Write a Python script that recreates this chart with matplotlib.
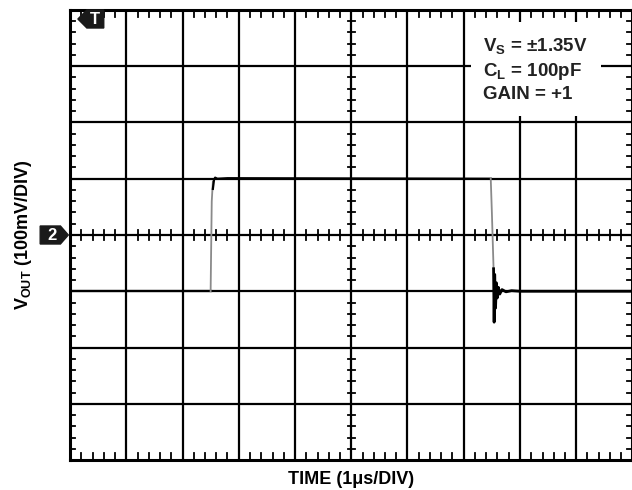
import matplotlib.pyplot as plt
from matplotlib.patches import Polygon

plt.rcParams['font.family'] = ['Liberation Sans', 'DejaVu Sans']

# waveform, time in us, output in mV (100mV/div, 1us/div)
t_low = [0.0, 2.50]
v_low = [-100, -100]
t_rise = [2.50, 2.52, 2.54]
v_rise = [-100, 60, 95]
t_high = [2.54, 2.56, 2.58, 2.62, 2.8, 7.48]
v_high = [82, 98, 102, 100, 101, 100]
t_fall = [7.48, 7.50, 7.53]
v_fall = [100, 40, -60]
t_ring = [7.53, 7.54, 7.55, 7.565, 7.58, 7.595, 7.615, 7.64, 7.68, 7.75, 7.85, 8.0, 10.0]
v_ring = [-60, -155, -70, -130, -85, -112, -93, -105, -97, -101, -99, -100, -100]

note_lines = ['V$_\\mathregular{S}$ = \u00b11.35V', 'C$_\\mathregular{L}$ = 100pF', 'GAIN = +1']

fig = plt.figure(figsize=(6.32, 4.9), dpi=100)
ax = fig.add_axes([70 / 632, 30 / 490, 562.5 / 632, 450 / 490])
ax.set_xlim(0, 10)
ax.set_ylim(-400, 400)

# grid
for x in range(1, 10):
    ax.axvline(x, color='black', lw=1.6, zorder=1)
for y in range(-300, 400, 100):
    ax.axhline(y, color='black', lw=1.6, zorder=1)

for s in ax.spines.values():
    s.set_linewidth(2.2)
ax.set_xticks([])
ax.set_yticks([])

# minor ticks on the borders and centre axes
minor_x = [x / 5 for x in range(1, 50) if x % 5 != 0]
minor_y = [y * 20 for y in range(-19, 20) if y % 5 != 0]
tx = 0.09
ty = 13
for x in minor_x:
    ax.plot([x, x], [-400, -400 + ty], color='black', lw=1.3, clip_on=False, zorder=2)
    ax.plot([x, x], [400, 400 - ty], color='black', lw=1.3, clip_on=False, zorder=2)
    ax.plot([x, x], [-ty / 2 - 2, ty / 2 + 2], color='black', lw=1.3, zorder=2)
for y in minor_y:
    ax.plot([0, tx], [y, y], color='black', lw=1.3, clip_on=False, zorder=2)
    ax.plot([10, 10 - tx], [y, y], color='black', lw=1.3, clip_on=False, zorder=2)
    ax.plot([5 - tx / 2 - 0.02, 5 + tx / 2 + 0.02], [y, y], color='black', lw=1.3, zorder=2)

# trace
ax.plot(t_low, v_low, color='black', lw=1.6, zorder=4)
ax.plot(t_rise, v_rise, color='#8a8a8a', lw=1.3, zorder=4)
ax.plot(t_high, v_high, color='black', lw=1.6, zorder=4)
ax.plot(t_fall, v_fall, color='#8a8a8a', lw=1.3, zorder=4)
ax.plot(t_ring, v_ring, color='black', lw=2.0, zorder=4)

# trigger marker
ax.add_patch(Polygon([[0.14, 384], [0.3, 400], [0.6, 400], [0.6, 368], [0.3, 368]],
                     closed=True, color='#1a1a1a', zorder=6, clip_on=False))
ax.text(0.44, 383, 'T', color='white', fontsize=12, fontweight='bold',
        ha='center', va='center', zorder=7)

# channel 2 reference marker
ax.add_patch(Polygon([[-0.53, 16], [-0.17, 16], [-0.03, 0], [-0.17, -16], [-0.53, -16]],
                     closed=True, color='#1a1a1a', zorder=6, clip_on=False))
ax.text(-0.32, -1, '2', color='white', fontsize=12, fontweight='bold',
        ha='center', va='center', zorder=7, clip_on=False)

# conditions box
ax.text(7.35, 294, '\n'.join(note_lines), fontsize=13.5, fontweight='bold',
        color='#222222', ha='left', va='center', linespacing=1.3, zorder=8,
        bbox=dict(facecolor='white', edgecolor='none', pad=9))

ax.set_xlabel('TIME (1\u03bcs/DIV)', fontsize=13, fontweight='bold', labelpad=8)
ax.set_ylabel('V$_\\mathregular{OUT}$ (100mV/DIV)', fontsize=13, fontweight='bold', labelpad=26)

fig.savefig('out.png', dpi=100)
